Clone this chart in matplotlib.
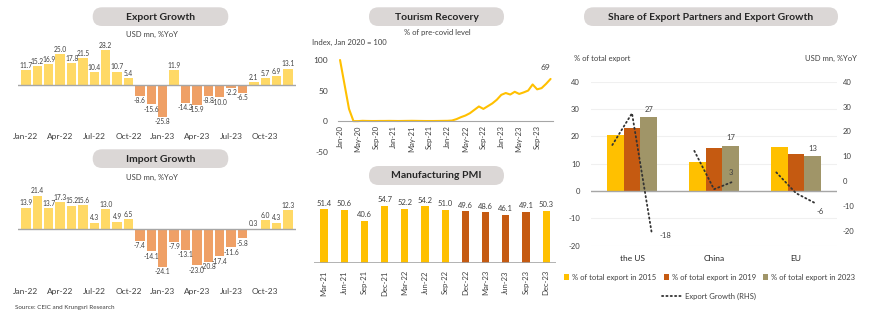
import matplotlib
matplotlib.use("Agg")
import matplotlib.pyplot as plt
import numpy as np
import pandas as pd
from matplotlib.patches import FancyBboxPatch
from matplotlib.transforms import IdentityTransform
from matplotlib.lines import Line2D

plt.rcParams['font.family'] = ['Lato', 'DejaVu Sans']
plt.rcParams['axes.unicode_minus'] = False
TXT = '#404040'
W, H = 870, 321

# ---- data ----
months = pd.date_range('2022-01', periods=24, freq='MS').strftime('%b-%y').tolist()
export_growth = [11.7, 15.2, 16.9, 25.0, 17.8, 21.5, 10.4, 28.2, 10.7, 5.4, -8.6, -15.6,
                 -25.8, 11.9, -14.3, -15.9, -8.8, -10.0, -2.2, -6.5, 2.1, 5.7, 6.9, 13.1]
import_growth = [13.9, 21.4, 13.7, 17.3, 15.2, 15.6, 4.3, 13.0, 4.9, 6.5, -7.4, -14.1,
                 -24.1, -7.9, -13.1, -23.0, -20.8, -17.4, -11.6, -5.8, 0.3, 6.0, 4.3, 12.3]

tour_months = pd.date_range('2020-01', periods=48, freq='MS').strftime('%b-%y').tolist()
tourism = [100, 60, 20, 0, 0, 0.5, 0.3, 0.2, 0.2, 0.3, 0.3, 0.4,
           0.3, 0.2, 0.3, 0.4, 0.5, 0.4, 0.3, 0.2, 0.2, 0.2, 0.3, 0.4,
           0.5, 1, 3.3, 6.5, 9.2, 13, 18.5, 24, 20, 24.5, 29, 35,
           43, 46, 43.5, 48, 44.5, 47, 50, 60, 52, 54, 61, 69]

pmi_quarters = ['Mar-21', 'Jun-21', 'Sep-21', 'Dec-21', 'Mar-22', 'Jun-22',
                'Sep-22', 'Dec-22', 'Mar-23', 'Jun-23', 'Sep-23', 'Dec-23']
pmi = [51.4, 50.6, 40.6, 54.7, 52.2, 54.2, 51.0, 49.6, 48.6, 46.1, 49.1, 50.3]
pmi_colors = ['#FFC000'] * 7 + ['#C55A11'] * 4 + ['#FFC000']

partners = ['the US', 'China', 'EU']
share_2015 = [20.6, 10.5, 16.0]
share_2019 = [23.1, 15.6, 13.4]
share_2023 = [27.0, 16.6, 12.8]
growth_us = [17.9, 30.9, -18]
growth_china = [15.5, -0.2, 3]
growth_eu = [6.7, -1.8, -6]

fig = plt.figure(figsize=(W / 100, H / 100), dpi=100)


def ax_px(x0, y0, x1, y1):
    return fig.add_axes([x0 / W, 1 - y1 / H, (x1 - x0) / W, (y1 - y0) / H])


def ftext(x, y, s, **kw):
    kw.setdefault('color', TXT)
    fig.text(x / W, 1 - y / H, s, **kw)


def pill(x0, x1, y0, y1, title):
    fig.add_artist(FancyBboxPatch((x0, H - y1), x1 - x0, y1 - y0,
                                  boxstyle='round,pad=0,rounding_size=%.1f' % ((y1 - y0) / 2),
                                  transform=IdentityTransform(), fc='#DBD7D6', ec='none'))
    ftext((x0 + x1) / 2, (y0 + y1) / 2 + 0.5, title, ha='center', va='center',
          fontsize=7.5, fontweight='bold', color='#262626')


def clean(ax):
    for s in ax.spines.values():
        s.set_visible(False)


POS, NEG = '#FFD966', '#EFA066'


def growth_panel(ax, vals, ylim, pad):
    x = np.arange(len(vals))
    cols = [POS if v >= 0 else NEG for v in vals]
    bars = ax.bar(x, vals, width=0.82, color=cols)
    ax.bar_label(bars, fmt='%.1f', fontsize=4.8, color=TXT, padding=1)
    ax.axhline(0, color='#A6A6A6', lw=1)
    ax.set_xlim(-0.7, len(vals) - 0.3)
    ax.set_ylim(*ylim)
    ax.set_xticks(x[::3], months[::3])
    ax.set_yticks([])
    ax.tick_params(length=0, labelsize=6, labelcolor=TXT, pad=pad)
    clean(ax)


# ---- Export growth ----
pill(92.7, 228.3, 7.3, 26, 'Export Growth')
ftext(152, 34, 'USD mn, %YoY', ha='center', va='center', fontsize=5.5)
ax1 = ax_px(18, 42.8, 296, 124.7)
growth_panel(ax1, export_growth, (-32, 34), 6)

# ---- Import growth ----
pill(92.7, 228.3, 149.3, 168, 'Import Growth')
ftext(152, 177.7, 'USD mn, %YoY', ha='center', va='center', fontsize=5.5)
ax2 = ax_px(18, 188.7, 296, 279.2)
growth_panel(ax2, import_growth, (-32, 26), 6)
ftext(15, 308, 'Source: CEIC and Krungsri Research', ha='left', va='center', fontsize=4.5)

# ---- Tourism recovery ----
pill(369, 504, 7.3, 26, 'Tourism Recovery')
ftext(437, 33, '% of pre-covid level', ha='center', va='center', fontsize=5.5)
ftext(312, 42, 'Index, Jan 2020 = 100', ha='left', va='center', fontsize=5.5)
ax3 = ax_px(337.8, 60, 552.8, 151.7)
xt = np.arange(len(tourism))
ax3.plot(xt, tourism, color='#FFC000', lw=1.5, clip_on=False, solid_capstyle='round')
ax3.annotate('%d' % tourism[-1], (xt[-1], tourism[-1]), xytext=(-4, 6),
             textcoords='offset points', ha='center', va='bottom', fontsize=6, color=TXT)
clean(ax3)
ax3.spines['bottom'].set_visible(True)
ax3.spines['bottom'].set_position(('data', 0))
ax3.spines['bottom'].set_color('#A6A6A6')
ax3.set_xlim(-0.5, 47.5)
ax3.set_ylim(-50, 100)
ax3.set_yticks([-50, 0, 50, 100])
ax3.set_xticks(xt[::4], tour_months[::4])
ax3.tick_params(axis='x', length=0, labelsize=5.5, labelcolor=TXT, pad=3, labelrotation=90)
ax3.tick_params(axis='y', length=0, labelsize=6, labelcolor=TXT, pad=7)

# ---- Manufacturing PMI ----
pill(369, 504, 166, 185, 'Manufacturing PMI')
ax4 = ax_px(313.9, 200.4, 556.3, 263.3)
xp = np.arange(len(pmi))
pb = ax4.bar(xp, pmi, width=0.36, color=pmi_colors)
ax4.bar_label(pb, fmt='%.1f', fontsize=5.5, color=TXT, padding=2)
ax4.axhline(0, color='#A6A6A6', lw=1.2)
ax4.set_xlim(-0.5, 11.5)
ax4.set_ylim(0, 60)
ax4.set_yticks([])
ax4.set_xticks(xp, pmi_quarters)
ax4.tick_params(length=0, labelsize=5.5, labelcolor=TXT, pad=5, labelrotation=90)
clean(ax4)

# ---- Share of export partners ----
pill(584, 838, 7.3, 26, 'Share of Export Partners and Export Growth')
ftext(601.7, 58.3, '% of total export', ha='center', va='center', fontsize=5.5)
ftext(831, 58.3, 'USD mn, %YoY', ha='center', va='center', fontsize=5.5)
ax5 = ax_px(591, 81.7, 837, 245.7)
xc = np.arange(len(partners))
bw = 0.207
b15 = ax5.bar(xc - bw, share_2015, width=bw, color='#FFC000', label='% of total export in 2015')
b19 = ax5.bar(xc, share_2019, width=bw, color='#C55A11', label='% of total export in 2019')
b23 = ax5.bar(xc + bw, share_2023, width=bw, color='#A09568', label='% of total export in 2023')
ax5.bar_label(b23, labels=['%.0f' % v for v in share_2023], fontsize=5.5, color=TXT, padding=3)
ax5.set_xlim(-0.5, 2.5)
ax5.set_ylim(-20, 40)
ax5.set_yticks(np.arange(-20, 41, 10))
ax5.grid(axis='y', color='#F0F0F0', lw=0.8)
ax5.set_axisbelow(True)
ax5.axhline(0, color='#A6A6A6', lw=1)
ax5.set_xticks(xc, partners)
ax5.tick_params(axis='x', length=0, labelsize=6, labelcolor='#262626', pad=7)
ax5.tick_params(axis='y', length=0, labelsize=5.5, labelcolor=TXT, pad=8)
clean(ax5)

ax5r = ax5.twinx()
ax5r.set_ylim(-26, 40)
ax5r.set_yticks(np.arange(-20, 41, 10))
ax5r.tick_params(length=0, labelsize=5.5, labelcolor=TXT, pad=4)
clean(ax5r)

# export growth line (own hidden scale, as in the source chart)
ax5g = ax5.twinx()
ax5g.set_ylim(-23.3, 43.8)
ax5g.axis('off')
off = 0.24
line_kw = dict(color='#333333', lw=1.3, ls=(0, (0.7, 1.7)), dash_capstyle='round')
for i, g in enumerate([growth_us, growth_china, growth_eu]):
    ax5g.plot([i - off, i, i + off], g, **line_kw)
ax5g.annotate('%d' % growth_us[-1], (0 + off, growth_us[-1]), xytext=(6, -2),
              textcoords='offset points', ha='left', va='center', fontsize=5.5, color=TXT)
ax5g.annotate('%d' % growth_china[-1], (1 + off, growth_china[-1]), xytext=(-2, 4),
              textcoords='offset points', ha='center', va='bottom', fontsize=5.5, color=TXT)
ax5g.annotate('%d' % growth_eu[-1], (2 + off, growth_eu[-1]), xytext=(3, -6),
              textcoords='offset points', ha='center', va='center', fontsize=5.5, color=TXT)

fig.legend(handles=[b15, b19, b23], loc='center', bbox_to_anchor=(709.7 / W, 1 - 277.3 / H),
           ncol=3, frameon=False, fontsize=5.5, handlelength=0.7, handleheight=0.7,
           handletextpad=0.4, columnspacing=0.9, labelcolor=TXT)
lh = Line2D([], [], **line_kw)
fig.legend(handles=[lh], labels=['Export Growth (RHS)'], loc='center',
           bbox_to_anchor=(709 / W, 1 - 296.7 / H), frameon=False, fontsize=5.5,
           handlelength=2.4, handletextpad=0.5, labelcolor=TXT)

fig.savefig('out.png', dpi=100)
